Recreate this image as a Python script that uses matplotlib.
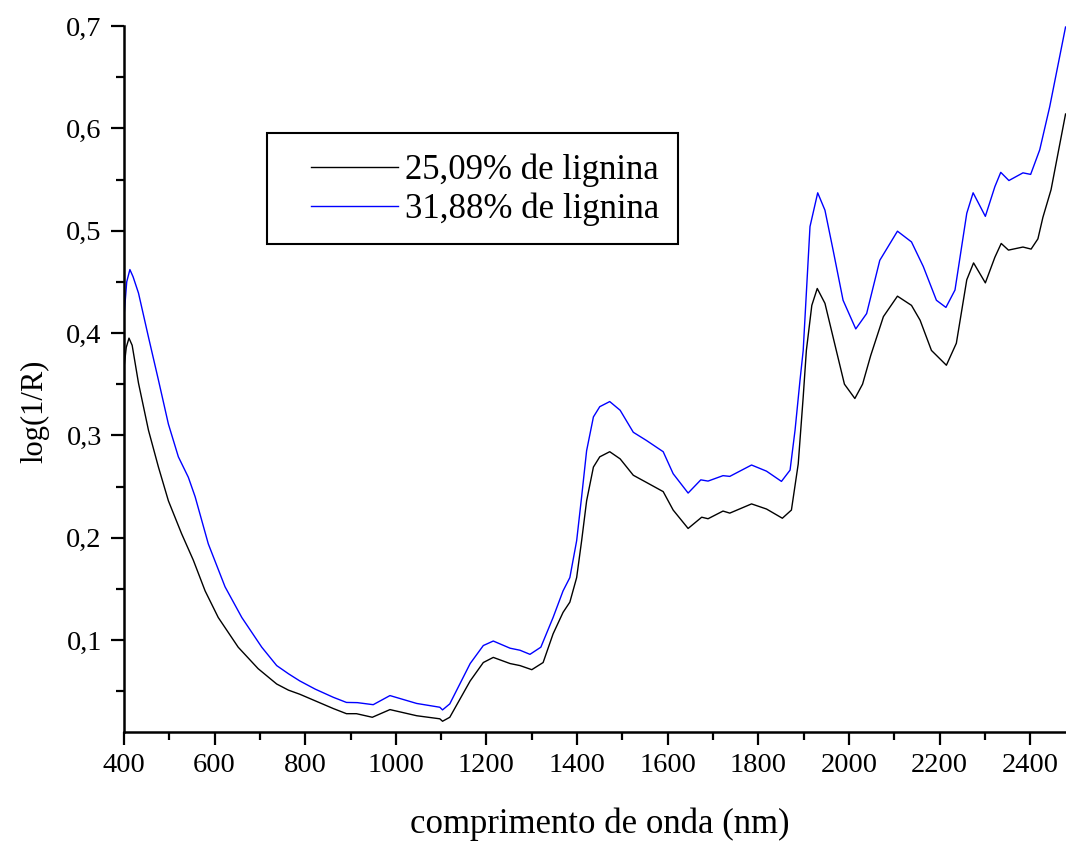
import matplotlib
matplotlib.use("Agg")
import matplotlib.pyplot as plt
from matplotlib.patches import Rectangle
from matplotlib.ticker import FixedLocator, MultipleLocator

plt.rcParams['font.family'] = ['Liberation Serif', 'DejaVu Serif']
plt.rcParams['lines.solid_joinstyle'] = 'round'

# --- data ---
wl_a = [400, 405, 411, 418, 432, 454, 476, 498, 527, 553, 579, 608, 652, 696, 737, 763, 788,
        862, 891, 913, 948, 987, 1046, 1097, 1103, 1119, 1164, 1193, 1215, 1252,
        1274, 1300, 1325, 1347, 1369, 1384, 1399, 1410, 1421, 1436, 1450, 1472,
        1495, 1524, 1553, 1590, 1612, 1645, 1675, 1689, 1722, 1737, 1785, 1818,
        1853, 1873, 1888, 1899, 1906, 1918, 1930, 1947, 1972, 1990, 2013, 2030,
        2048, 2076, 2107, 2138, 2157, 2182, 2215, 2237, 2260, 2275, 2301, 2322,
        2336, 2352, 2384, 2402, 2417, 2428, 2446, 2478]
val_a = [0.366, 0.386, 0.395, 0.388, 0.351, 0.305, 0.269, 0.236, 0.204, 0.178, 0.148, 0.122,
         0.093, 0.072, 0.057, 0.051, 0.047, 0.033, 0.028, 0.028, 0.0245, 0.032,
         0.026, 0.023, 0.0206, 0.0245, 0.060, 0.078, 0.083, 0.077, 0.075, 0.071,
         0.078, 0.106, 0.127, 0.137, 0.161, 0.197, 0.236, 0.269, 0.279, 0.284,
         0.277, 0.261, 0.254, 0.245, 0.227, 0.209, 0.220, 0.2185, 0.226, 0.224,
         0.233, 0.228, 0.219, 0.227, 0.272, 0.3375, 0.383, 0.427, 0.4435, 0.429,
         0.383, 0.350, 0.336, 0.350, 0.378, 0.416, 0.436, 0.427, 0.4125, 0.383,
         0.3685, 0.390, 0.452, 0.4685, 0.449, 0.474, 0.4875, 0.481, 0.484, 0.482,
         0.492, 0.513, 0.540, 0.614]

wl_b = [400, 406, 413, 420, 432, 454, 476, 498, 520, 542, 557, 586, 623, 660, 704, 737, 763,
        788, 822, 862, 891, 915, 950, 987, 1046, 1097, 1103, 1119, 1164, 1193,
        1215, 1252, 1274, 1296, 1320, 1347, 1369, 1384, 1399, 1410, 1421, 1436,
        1450, 1472, 1495, 1524, 1553, 1590, 1612, 1645, 1673, 1689, 1722, 1737,
        1785, 1818, 1851, 1870, 1881, 1892, 1899, 1914, 1931, 1947, 1965, 1987,
        2015, 2039, 2068, 2107, 2138, 2164, 2193, 2214, 2234, 2260, 2274, 2301,
        2322, 2335, 2353, 2384, 2401, 2421, 2443, 2478]
val_b = [0.416, 0.450, 0.462, 0.455, 0.439, 0.396, 0.354, 0.311, 0.279, 0.259, 0.240, 0.194,
         0.152, 0.122, 0.093, 0.075, 0.067, 0.060, 0.052, 0.044, 0.039, 0.0388,
         0.0368, 0.0457, 0.038, 0.0343, 0.0317, 0.0376, 0.077, 0.0946, 0.099,
         0.092, 0.090, 0.086, 0.093, 0.122, 0.148, 0.161, 0.197, 0.240, 0.285,
         0.318, 0.328, 0.333, 0.3245, 0.303, 0.295, 0.284, 0.2625, 0.2436, 0.2565,
         0.2553, 0.2606, 0.2599, 0.271, 0.265, 0.255, 0.266, 0.305, 0.354, 0.383,
         0.504, 0.537, 0.520, 0.481, 0.432, 0.404, 0.419, 0.471, 0.4995, 0.489,
         0.465, 0.432, 0.425, 0.442, 0.517, 0.537, 0.514, 0.543, 0.557, 0.549,
         0.5565, 0.555, 0.579, 0.621, 0.699]

labels = ["25,09% de lignina", "31,88% de lignina"]
colors = ["black", "#0000ff"]

x_ticks = [400, 600, 800, 1000, 1200, 1400, 1600, 1800, 2000, 2200, 2400]
y_ticks = [0.1, 0.2, 0.3, 0.4, 0.5, 0.6, 0.7]
y_tick_labels = ["0,1", "0,2", "0,3", "0,4", "0,5", "0,6", "0,7"]

W, H = 1066, 841
fig = plt.figure(figsize=(W / 100, H / 100), dpi=100)
ax = fig.add_axes([124 / W, 1 - 731.7 / H, (W - 124) / W, (731.7 - 26) / H])

ax.plot(wl_a, val_a, color=colors[0], lw=1.0, label=labels[0])
ax.plot(wl_b, val_b, color=colors[1], lw=1.0, label=labels[1])

ax.set_xlim(400, 2479)
ax.set_ylim(0.0104, 0.7)

for s in ["top", "right"]:
    ax.spines[s].set_visible(False)
for s in ["left", "bottom"]:
    ax.spines[s].set_linewidth(1.8)

ax.xaxis.set_major_locator(FixedLocator(x_ticks))
ax.xaxis.set_minor_locator(MultipleLocator(100))
ax.set_xticklabels([str(t) for t in x_ticks])
ax.yaxis.set_major_locator(FixedLocator(y_ticks))
ax.yaxis.set_minor_locator(MultipleLocator(0.05))
ax.set_yticklabels(y_tick_labels)
ax.tick_params(which="major", direction="out", length=9.5, width=1.6, labelsize=20.5)
ax.tick_params(axis="y", which="major", pad=6.5)
ax.tick_params(axis="x", which="major", pad=6)
ax.tick_params(which="minor", direction="out", length=5.5, width=1.6)

fig.text(600 / W, 1 - 824 / H, "comprimento de onda (nm)", fontsize=25,
         ha="center", va="center")
fig.text(35 / W, 1 - 411 / H, "log(1/R)", fontsize=22, rotation=90,
         ha="center", va="center")

# legend box
fig.patches.append(Rectangle((267 / W, 1 - 244 / H), (678 - 267) / W, (244 - 133) / H,
                             transform=fig.transFigure, fill=False, edgecolor="black",
                             linewidth=1.5))
fig.legend(loc="center left", bbox_to_anchor=(311 / W, 1 - 190 / H), frameon=False,
           fontsize=25, handlelength=2.5, handletextpad=0.2, borderpad=0,
           labelspacing=0.15, borderaxespad=0)

fig.savefig("out.png", dpi=100)
